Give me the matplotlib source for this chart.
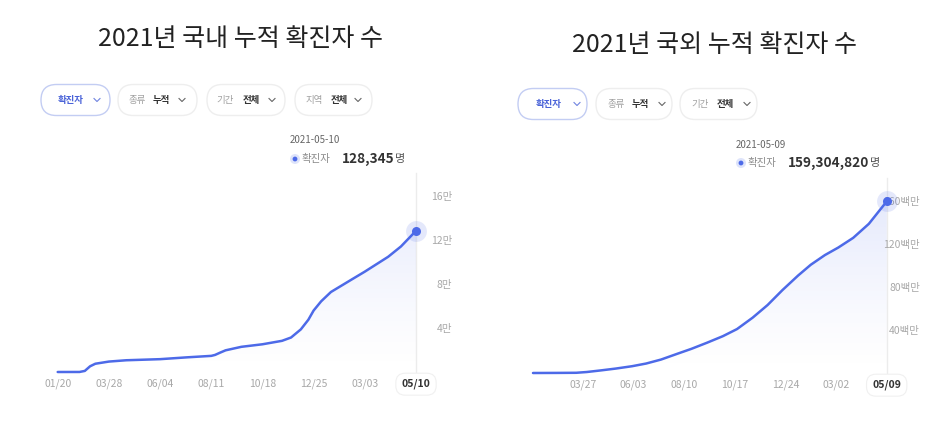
import numpy as np
import matplotlib
matplotlib.use("Agg")
import matplotlib.pyplot as plt
import matplotlib.dates as mdates
from matplotlib.patches import FancyBboxPatch, Circle

plt.rcParams['font.family'] = ['Noto Sans CJK KR', 'DejaVu Sans']

# ---------------- data ----------------
dom_dates = ["2020-01-20", "2020-02-18", "2020-02-25", "2020-03-03", "2020-03-10",
             "2020-03-28", "2020-04-20", "2020-06-04", "2020-07-10", "2020-08-11",
             "2020-08-16", "2020-08-23", "2020-08-30", "2020-09-20", "2020-10-18",
             "2020-11-13", "2020-11-25", "2020-12-08", "2020-12-18", "2020-12-25",
             "2021-01-04", "2021-01-17", "2021-02-13", "2021-03-03", "2021-04-03",
             "2021-04-20", "2021-05-10"]
dom_values = [1, 31, 977, 5186, 7513,
              9478, 10674, 11668, 13338, 14660,
              15515, 17665, 19700, 22893, 25199,
              28338, 31353, 38755, 47515, 55902,
              64264, 72729, 83869, 91240, 104736,
              114115, 128345]
dom_xticks = ["2020-01-20", "2020-03-28", "2020-06-04", "2020-08-11",
              "2020-10-18", "2020-12-25", "2021-03-03", "2021-05-10"]
dom_yticks = [40000, 80000, 120000, 160000]
dom_ylabels = ["4만", "8만", "12만", "16만"]

glo_dates = ["2020-01-20", "2020-02-20", "2020-03-18", "2020-04-01", "2020-04-20",
             "2020-05-10", "2020-06-01", "2020-06-20", "2020-07-10", "2020-08-01",
             "2020-08-20", "2020-09-10", "2020-10-01", "2020-10-20", "2020-11-10",
             "2020-11-30", "2020-12-20", "2021-01-10", "2021-01-27", "2021-02-15",
             "2021-03-05", "2021-03-25", "2021-04-15", "2021-05-09"]
glo_values = [0.0, 0.08, 0.2, 0.9, 2.4,
              4.1, 6.3, 8.8, 12.5, 17.9,
              22.5, 28.2, 34.2, 40.8, 51.4,
              63.1, 77.0, 90.5, 100.5, 109.5,
              116.5, 125.5, 138.5, 159.30482]   # millions
glo_xticks = ["2020-03-27", "2020-06-03", "2020-08-10", "2020-10-17",
              "2020-12-24", "2021-03-02", "2021-05-09"]
glo_yticks = [40, 80, 120, 160]
glo_ylabels = ["40백만", "80백만", "120백만", "160백만"]

titles = ["2021년 국내 누적 확진자 수", "2021년 국외 누적 확진자 수"]
tip_dates = ["2021-05-10", "2021-05-09"]
tip_values = ["128,345", "159,304,820"]

# ---------------- figure ----------------
W, H = 947, 426
fig = plt.figure(figsize=(W / 100, H / 100), dpi=100)
fig.patch.set_facecolor("white")

LINE = "#4d6ae8"
GREY = "#a8a8a8"


def fpos(x0, x1, ybot, ytop):
    return [x0 / W, 1 - ybot / H, (x1 - x0) / W, (ybot - ytop) / H]


def draw_chart(ax, dates, values, ymax, xticks, yticks, ylabels, label_pad, cross_top):
    x = mdates.date2num(np.array(dates, dtype="datetime64[D]"))
    y = np.array(values, dtype=float)
    ax.set_xlim(x[0], x[-1])
    ax.set_ylim(0, ymax)
    for s in ax.spines.values():
        s.set_visible(False)
    ax.set_facecolor("none")

    # gradient fill under the curve
    poly = ax.fill_between(x, y, 0, facecolor="none", edgecolor="none")
    grad = np.zeros((256, 2, 4))
    grad[..., 0] = 0.36
    grad[..., 1] = 0.46
    grad[..., 2] = 0.93
    alpha = np.linspace(0.24, 0.0, 256) ** 1.3
    grad[..., 3] = alpha[:, None]
    im = ax.imshow(grad, extent=[x[0], x[-1], 0, ymax], origin="upper",
                   aspect="auto", zorder=1, interpolation="bilinear")
    im.set_clip_path(poly.get_paths()[0], transform=ax.transData)

    # crosshair
    ax.axvline(x[-1], ymin=0, ymax=cross_top, color="#ececec", lw=1.0,
               clip_on=False, zorder=0.5)

    ax.plot(x, y, color=LINE, lw=1.8, clip_on=False, zorder=3,
            solid_joinstyle="round", solid_capstyle="round")
    ax.plot([x[-1]], [y[-1]], "o", ms=15, color=LINE, alpha=0.15,
            mec="none", clip_on=False, zorder=3)
    ax.plot([x[-1]], [y[-1]], "o", ms=6.5, color=LINE, mec="none",
            clip_on=False, zorder=4)

    xt = mdates.date2num(np.array(xticks, dtype="datetime64[D]"))
    ax.set_xticks(xt)
    ax.set_xticklabels([np.datetime64(d, "D").item().strftime("%m/%d") for d in xticks])
    ax.tick_params(axis="x", length=0, pad=5, labelsize=7.5, labelcolor=GREY)
    lab = ax.get_xticklabels()[-1]
    lab.set_fontweight("bold")
    lab.set_color("#333333")
    lab.set_bbox(dict(boxstyle="round,pad=0.55,rounding_size=0.9", fc="white",
                      ec="#f0f0f0", lw=0.8))

    ax.yaxis.tick_right()
    ax.set_yticks(yticks)
    ax.set_yticklabels(ylabels)
    ax.tick_params(axis="y", length=0, pad=label_pad, labelsize=7.5, labelcolor=GREY)
    for t in ax.get_yticklabels():
        t.set_horizontalalignment("right")


ax1 = fig.add_axes(fpos(57.7, 416, 372, 196))
draw_chart(ax1, dom_dates, dom_values, 160000, dom_xticks, dom_yticks, dom_ylabels,
           26, 1.13)
ax2 = fig.add_axes(fpos(533, 886.7, 373, 200.7))
draw_chart(ax2, glo_dates, glo_values, 160, glo_xticks, glo_yticks, glo_ylabels,
           24, 1.13)

# ---------------- overlay (titles, pills, tooltips) ----------------
ov = fig.add_axes([0, 0, 1, 1], zorder=10)
ov.set_xlim(0, W)
ov.set_ylim(H, 0)
ov.axis("off")
ov.patch.set_alpha(0)

ov.text(240, 39, titles[0], ha="center", va="center", fontsize=18, color="#222222")
ov.text(714, 45, titles[1], ha="center", va="center", fontsize=18, color="#222222")


def pill(x0, x1, yc, h=31, active=False):
    ec = "#c3cdf3" if active else "#eeeeee"
    p = FancyBboxPatch((x0 + h / 2, yc - 0.01), x1 - x0 - h, 0.02,
                       boxstyle=f"round,pad={h/2},rounding_size={h/2}",
                       fc="white", ec=ec, lw=1.0)
    ov.add_patch(p)


def chevron(cx, cy, color):
    ov.plot([cx - 3, cx, cx + 3], [cy - 1.5, cy + 1.5, cy - 1.5], color=color, lw=0.8)


def pill_set(specs, yc):
    for sp in specs:
        pill(sp["x0"], sp["x1"], yc, active=sp.get("active", False))
        if sp.get("active"):
            ov.text(sp["t1"], yc, "확진자", ha="center", va="center", fontsize=6.8,
                    color="#4a63d8", fontweight="bold")
            chevron(sp["ch"], yc, "#6f83e0")
        else:
            ov.text(sp["t1"], yc, sp["a"], ha="center", va="center", fontsize=6.8,
                    color="#a0a0a0")
            ov.text(sp["t2"], yc, sp["b"], ha="center", va="center", fontsize=6.8,
                    color="#333333", fontweight="bold")
            chevron(sp["ch"], yc, "#666666")


pill_set([
    dict(x0=41, x1=110, t1=71, ch=97, active=True),
    dict(x0=118, x1=197, t1=137.5, t2=161.5, ch=182, a="종류", b="누적"),
    dict(x0=207, x1=285, t1=225.5, t2=251, ch=272, a="기간", b="전체"),
    dict(x0=295, x1=372, t1=314.5, t2=339, ch=358, a="지역", b="전체"),
], 100)
pill_set([
    dict(x0=518, x1=587, t1=549, ch=577, active=True),
    dict(x0=596, x1=672, t1=616.5, t2=640, ch=662, a="종류", b="누적"),
    dict(x0=680, x1=757, t1=700, t2=725, ch=747, a="기간", b="전체"),
], 104)


def tooltip(x, ydate, yval, date, value):
    ov.text(x, ydate, date, ha="left", va="center", fontsize=7, color="#666666")
    ov.add_patch(Circle((x + 5, yval), 5, fc=LINE, alpha=0.18, ec="none"))
    ov.add_patch(Circle((x + 5, yval), 2.4, fc=LINE, ec="none"))
    ov.text(x + 12, yval, "확진자", ha="left", va="center", fontsize=7.5, color="#8a8a8a")
    t2 = ov.text(x + 52, yval, value, ha="left", va="center", fontsize=9.8,
                 color="#333333", fontweight="bold")
    fig.canvas.draw()
    bb = t2.get_window_extent()
    xr = ov.transData.inverted().transform((bb.x1, bb.y0))[0]
    ov.text(xr + 0.5, yval, "명", ha="left", va="center", fontsize=8, color="#555555")


tooltip(290, 140, 159, tip_dates[0], tip_values[0])
tooltip(736, 145, 163, tip_dates[1], tip_values[1])

fig.savefig("out.png", dpi=100, facecolor="white")
